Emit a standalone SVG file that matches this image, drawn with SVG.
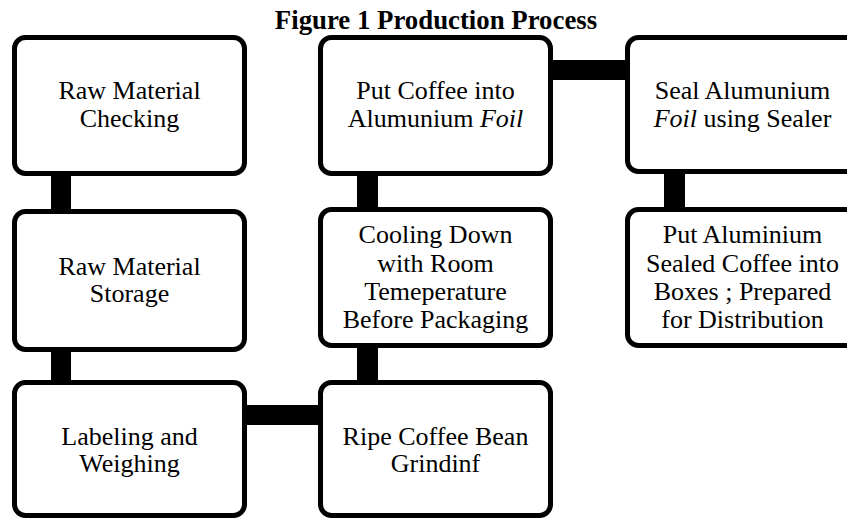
<svg xmlns="http://www.w3.org/2000/svg" width="847" height="520" viewBox="0 0 847 520">
<style>
.box{fill:#fff;stroke:#000;stroke-width:5}
.conn{fill:#000}
text{font-family:"Liberation Serif","Times New Roman",serif;font-size:26px;fill:#000;text-anchor:middle}
.title{font-weight:bold;font-size:26.8px}
.it{font-style:italic}
</style>
<rect width="847" height="520" fill="#fff"/>
<text class="title" x="436" y="29">Figure 1 Production Process</text>
<g id="connectors">
<rect class="conn" x="51" y="174" width="20" height="37"/>
<rect class="conn" x="51" y="350" width="20" height="32"/>
<rect class="conn" x="245" y="405" width="75" height="20"/>
<rect class="conn" x="357" y="346" width="21" height="36"/>
<rect class="conn" x="357" y="174" width="21" height="35"/>
<rect class="conn" x="551" y="60" width="76" height="20"/>
<rect class="conn" x="664" y="172" width="21" height="37"/>
</g>
<g id="n1">
<rect class="box" x="14.5" y="37.5" width="230" height="136" rx="11"/>
<text x="129.5" y="99">Raw Material</text>
<text x="129.5" y="127">Checking</text>
</g>
<g id="n2">
<rect class="box" x="14.5" y="211.5" width="230" height="138" rx="11"/>
<text x="129.5" y="275">Raw Material</text>
<text x="129.5" y="302">Storage</text>
</g>
<g id="n3">
<rect class="box" x="14.5" y="382.5" width="230" height="133" rx="11"/>
<text x="129.5" y="445">Labeling and</text>
<text x="129.5" y="472">Weighing</text>
</g>
<g id="n4">
<rect class="box" x="320.5" y="382.5" width="230" height="133" rx="11"/>
<text x="435.5" y="445">Ripe Coffee Bean</text>
<text x="435.5" y="472">Grindinf</text>
</g>
<g id="n5">
<rect class="box" x="320.5" y="209.5" width="230" height="136" rx="11"/>
<text x="435.5" y="243">Cooling Down</text>
<text x="435.5" y="271.5">with Room</text>
<text x="435.5" y="300">Temeperature</text>
<text x="435.5" y="328">Before Packaging</text>
</g>
<g id="n6">
<rect class="box" x="320.5" y="37.5" width="230" height="136" rx="11"/>
<text x="435.5" y="99">Put Coffee into</text>
<text x="435.5" y="127">Alumunium <tspan class="it">Foil</tspan></text>
</g>
<g id="n7">
<rect class="box" x="627.5" y="37.5" width="230" height="134" rx="11"/>
<text x="742.5" y="99">Seal Alumunium</text>
<text x="742.5" y="127"><tspan class="it">Foil</tspan> using Sealer</text>
</g>
<g id="n8">
<rect class="box" x="627.5" y="209.5" width="230" height="136" rx="11"/>
<text x="742.5" y="243">Put Aluminium</text>
<text x="742.5" y="271.5">Sealed Coffee into</text>
<text x="742.5" y="300">Boxes ; Prepared</text>
<text x="742.5" y="328">for Distribution</text>
</g>
</svg>
